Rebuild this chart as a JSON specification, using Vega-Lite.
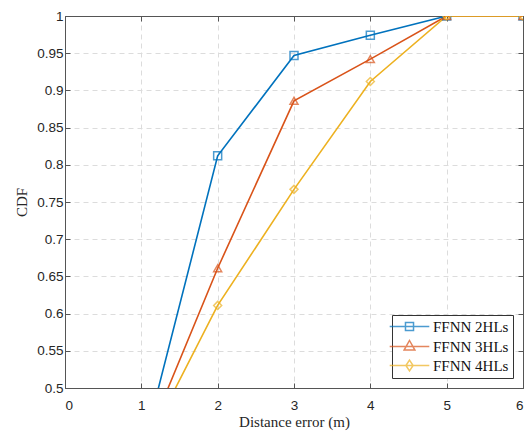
{
  "$schema": "https://vega.github.io/schema/vega-lite/v6.json",
  "width": 458,
  "height": 372,
  "autosize": {"type": "none"},
  "padding": {"left": 65, "top": 16, "right": 5, "bottom": 44},
  "background": "white",
  "config": {
    "view": {"stroke": "#555", "strokeWidth": 1},
    "axis": {
      "labelFont": "Liberation Sans",
      "labelFontSize": 13.5,
      "labelColor": "#262626",
      "titleFont": "Liberation Serif",
      "titleFontSize": 15,
      "titleFontWeight": "normal",
      "titleColor": "#262626",
      "domainColor": "#555",
      "tickColor": "#555",
      "gridColor": "#dcdcdc",
      "gridDash": [5, 4]
    }
  },
  "data": {
    "values": [
      {"series": "FFNN 2HLs", "x": 1, "y": 0.41},
      {"series": "FFNN 2HLs", "x": 2, "y": 0.812},
      {"series": "FFNN 2HLs", "x": 3, "y": 0.947},
      {"series": "FFNN 2HLs", "x": 4, "y": 0.974},
      {"series": "FFNN 2HLs", "x": 5, "y": 1},
      {"series": "FFNN 2HLs", "x": 6, "y": 1},
      {"series": "FFNN 3HLs", "x": 1, "y": 0.413},
      {"series": "FFNN 3HLs", "x": 2, "y": 0.661},
      {"series": "FFNN 3HLs", "x": 3, "y": 0.886},
      {"series": "FFNN 3HLs", "x": 4, "y": 0.942},
      {"series": "FFNN 3HLs", "x": 5, "y": 1},
      {"series": "FFNN 3HLs", "x": 6, "y": 1},
      {"series": "FFNN 4HLs", "x": 1, "y": 0.41},
      {"series": "FFNN 4HLs", "x": 2, "y": 0.611},
      {"series": "FFNN 4HLs", "x": 3, "y": 0.767},
      {"series": "FFNN 4HLs", "x": 4, "y": 0.912},
      {"series": "FFNN 4HLs", "x": 5, "y": 1},
      {"series": "FFNN 4HLs", "x": 6, "y": 1}
    ]
  },
  "layer": [
    {
      "mark": {"type": "line", "clip": true, "strokeWidth": 1.6},
      "encoding": {
        "x": {
          "field": "x", "type": "quantitative",
          "scale": {"domain": [0, 6], "nice": false, "zero": false},
          "axis": {"orient": "bottom", "values": [0, 1, 2, 3, 4, 5, 6], "title": "Distance error (m)", "tickSize": -5, "labelPadding": 15, "grid": true, "titlePadding": 3, "domain": true}
        },
        "y": {
          "field": "y", "type": "quantitative",
          "scale": {"domain": [0.5, 1], "nice": false, "zero": false},
          "axis": {"orient": "left", "values": [0.5, 0.55, 0.6, 0.65, 0.7, 0.75, 0.8, 0.85, 0.9, 0.95, 1], "labelExpr": "format(datum.value, '.2~f')", "title": "CDF", "tickSize": -5, "labelPadding": 7, "grid": true, "titlePadding": 7}
        },
        "color": {
          "field": "series", "type": "nominal",
          "scale": {"domain": ["FFNN 2HLs", "FFNN 3HLs", "FFNN 4HLs"], "range": ["#0072BD", "#D95319", "#EDB120"]},
          "legend": null
        }
      }
    },
    {
      "mark": {"type": "point", "filled": false, "clip": true, "strokeWidth": 1.5, "size": 64},
      "encoding": {
        "x": {
          "field": "x", "type": "quantitative",
          "scale": {"domain": [0, 6], "nice": false, "zero": false},
          "axis": {"orient": "top", "values": [0, 1, 2, 3, 4, 5, 6], "title": null, "labels": false, "tickSize": -5, "grid": false}
        },
        "y": {
          "field": "y", "type": "quantitative",
          "scale": {"domain": [0.5, 1], "nice": false, "zero": false},
          "axis": {"orient": "right", "values": [0.5, 0.55, 0.6, 0.65, 0.7, 0.75, 0.8, 0.85, 0.9, 0.95, 1], "title": null, "labels": false, "tickSize": -5, "grid": false}
        },
        "color": {
          "field": "series", "type": "nominal",
          "scale": {"domain": ["FFNN 2HLs", "FFNN 3HLs", "FFNN 4HLs"], "range": ["#0072BD", "#D95319", "#EDB120"]},
          "legend": null
        },
        "shape": {
          "field": "series", "type": "nominal",
          "scale": {"domain": ["FFNN 2HLs", "FFNN 3HLs", "FFNN 4HLs"], "range": ["square", "triangle-up", "diamond"]},
          "legend": null
        }
      }
    },
    {
      "transform": [{"filter": "datum.x == 1"}],
      "mark": {"type": "point", "filled": false, "clip": true, "strokeWidth": 1.5, "size": 144},
      "encoding": {
        "x": {"field": "x", "type": "quantitative", "scale": {"domain": [0, 6], "nice": false, "zero": false}, "axis": null},
        "y": {"field": "y", "type": "quantitative", "scale": {"domain": [0.5, 1], "nice": false, "zero": false}, "axis": null},
        "color": {
          "field": "series", "type": "nominal",
          "scale": {"domain": ["FFNN 2HLs", "FFNN 3HLs", "FFNN 4HLs"], "range": ["#0072BD", "#D95319", "#EDB120"]},
          "legend": {
            "orient": "bottom-right", "offset": 10, "title": null,
            "fillColor": "white", "strokeColor": "#333", "padding": 4,
            "labelFont": "Liberation Serif", "labelFontSize": 15, "labelColor": "#111",
            "symbolSize": 144, "symbolStrokeWidth": 1.5, "rowPadding": 2, "labelOffset": 22
          }
        },
        "shape": {
          "field": "series", "type": "nominal",
          "scale": {"domain": ["FFNN 2HLs", "FFNN 3HLs", "FFNN 4HLs"], "range": [
            "M-2.3,0H4.3M0.33,-0.67H1.67V0.67H0.33Z",
            "M-2.3,0H4.3M1,-1L1.9,0.6H0.1Z",
            "M-2.3,0H4.3M1,-0.9L1.6,0L1,0.9L0.4,0Z"
          ]},
          "legend": {
            "orient": "bottom-right", "offset": 10, "title": null,
            "fillColor": "white", "strokeColor": "#333", "padding": 4,
            "labelFont": "Liberation Serif", "labelFontSize": 15, "labelColor": "#111",
            "symbolSize": 144, "symbolStrokeWidth": 1.5, "rowPadding": 2, "labelOffset": 22
          }
        }
      }
    }
  ],
  "resolve": {
    "scale": {"shape": "independent", "color": "independent"},
    "axis": {"x": "independent", "y": "independent"}
  }
}
